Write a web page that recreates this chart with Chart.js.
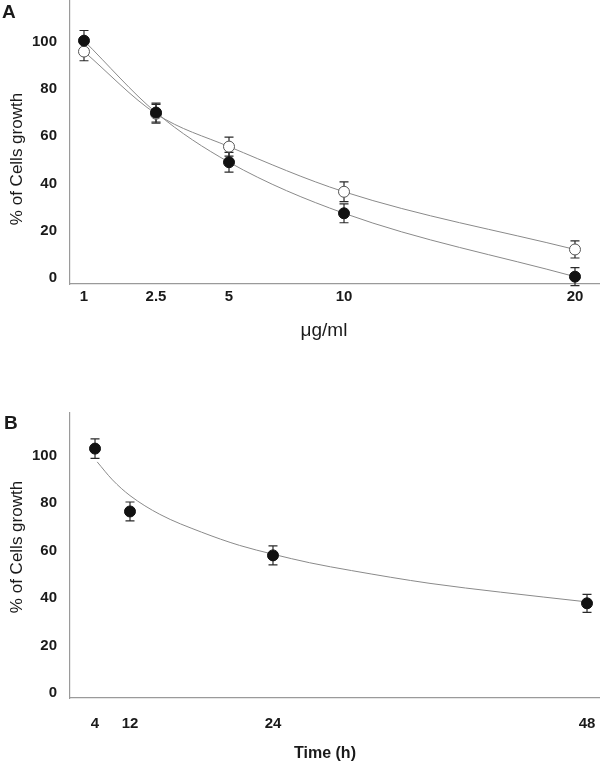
<!DOCTYPE html>
<html>
<head>
<meta charset="utf-8">
<script src="https://cdn.jsdelivr.net/npm/chart.js@4.4.0/dist/chart.umd.min.js"></script>
<style>
  body { margin: 0; background: #fff; }
  .page { position: relative; width: 600px; height: 763px; font-family: "Liberation Sans", Arial, sans-serif; color: #1a1a1a; }
  .panel { position: absolute; left: 0; width: 600px; }
  .letter { position: absolute; font-weight: bold; font-size: 19px; }
  .ytitle { position: absolute; left: 17px; font-size: 17px; white-space: nowrap; transform: translate(-50%, -50%) rotate(-90deg); }
  .xtitle { position: absolute; white-space: nowrap; transform: translate(-50%, -50%); }
</style>
</head>
<body>
<div class="page">
  <div class="panel" style="top:0;height:345px"><canvas id="chart-a" width="600" height="345"></canvas></div>
  <div class="panel" style="top:380px;height:383px"><canvas id="chart-b" width="600" height="383"></canvas></div>
  <div class="letter" style="left:2px;top:1px">A</div>
  <div class="letter" style="left:4px;top:412px">B</div>
  <div class="ytitle" style="top:159px">% of Cells growth</div>
  <div class="ytitle" style="top:547px">% of Cells growth</div>
  <div class="xtitle" style="left:324px;top:330px;font-size:19px">μg/ml</div>
  <div class="xtitle" style="left:325px;top:753px;font-size:16px;font-weight:bold">Time (h)</div>
</div>
<script>
// panel A: dose (ug/ml)
const doseLabels = [1, 2.5, 5, 10, 20];
const doseFilled = [100.4, 70, 49, 27.4, 0.6];
const doseFilledErr = [4.3, 4, 4.2, 4, 3.8];
const doseOpen = [95.8, 69.5, 55.6, 36.5, 12.1];
const doseOpenErr = [3.9, 4, 4, 4.2, 3.6];

// panel B: time (h)
const timeLabels = [4, 12, 24, 48];
const timeValues = [103, 76.5, 58, 37.8];
const timeErr = [4.1, 4, 4, 3.8];
// fitted curve
const timeFitX = [4.5, 8, 12, 14.5, 18, 21.2, 24, 26.8, 30, 36, 41.4, 48];
const timeFitY = [97.4, 89.8, 83.2, 75.3, 67.8, 62.2, 58.5, 54.9, 51.6, 46.2, 42.5, 38.4];

const yTicks = [0, 20, 40, 60, 80, 100];

const FONT = '"Liberation Sans", Arial, sans-serif';
const INK = "#1a1a1a";
Chart.defaults.font.family = FONT;

// x axis of the figure is not linear: map tick values onto fixed fractions of the axis
class PiecewiseScale extends Chart.LinearScale {
  getPixelForValue(value) {
    const stops = this.options.stops;
    const at = this.options.at;
    let i = 0;
    while (i < stops.length - 2 && value > stops[i + 1]) i++;
    const t = (value - stops[i]) / (stops[i + 1] - stops[i]);
    return this.getPixelForDecimal(at[i] + t * (at[i + 1] - at[i]));
  }
  getValueForPixel(pixel) {
    const stops = this.options.stops;
    const at = this.options.at;
    const d = this.getDecimalForPixel(pixel);
    let i = 0;
    while (i < at.length - 2 && d > at[i + 1]) i++;
    const t = (d - at[i]) / (at[i + 1] - at[i]);
    return stops[i] + t * (stops[i + 1] - stops[i]);
  }
}
PiecewiseScale.id = "piecewise";
PiecewiseScale.defaults = Chart.LinearScale.defaults;
Chart.register(PiecewiseScale);

const errorBars = {
  id: "errorBars",
  beforeDatasetsDraw(chart) {
    const ctx = chart.ctx;
    const xs = chart.scales.x;
    const ys = chart.scales.y;
    ctx.save();
    ctx.strokeStyle = "#2a2a2a";
    ctx.lineWidth = 1.2;
    chart.data.datasets.forEach((ds) => {
      if (!ds.errors) return;
      ds.data.forEach((p, i) => {
        const px = xs.getPixelForValue(p.x);
        const top = ys.getPixelForValue(p.y + ds.errors[i]);
        const bot = ys.getPixelForValue(p.y - ds.errors[i]);
        ctx.beginPath();
        ctx.moveTo(px, top);
        ctx.lineTo(px, bot);
        ctx.moveTo(px - 4.5, top);
        ctx.lineTo(px + 4.5, top);
        ctx.moveTo(px - 4.5, bot);
        ctx.lineTo(px + 4.5, bot);
        ctx.stroke();
      });
    });
    ctx.restore();
  },
};

function pts(xv, yv) {
  return xv.map((x, i) => ({ x: x, y: yv[i] }));
}

const tickFont = { family: FONT, size: 15, weight: "bold" };

function yAxis(min, max) {
  return {
    type: "linear",
    min: min,
    max: max,
    grid: { display: false, drawTicks: false },
    border: { display: true, color: "#9a9a9a", width: 1.2 },
    ticks: { font: tickFont, color: INK, padding: 13, callback: (v) => String(v) },
    afterBuildTicks: (s) => { s.ticks = yTicks.map((v) => ({ value: v })); },
    afterFit: (s) => { s.width = 70; s.paddingTop = 0; s.paddingBottom = 0; },
  };
}

function xAxis(labels, at, height, tickPad) {
  return {
    type: "piecewise",
    min: labels[0],
    max: labels[labels.length - 1],
    stops: labels,
    at: at,
    grid: { display: false, drawTicks: false },
    border: { display: true, color: "#9a9a9a", width: 1.2 },
    ticks: { font: tickFont, color: INK, padding: tickPad, autoSkip: false, maxRotation: 0, callback: (v) => String(v) },
    afterBuildTicks: (s) => { s.ticks = labels.map((v) => ({ value: v })); },
    afterFit: (s) => { s.height = height; s.paddingLeft = 0; s.paddingRight = 0; },
  };
}

const common = {
  responsive: false,
  animation: false,
  events: [],
  plugins: { legend: { display: false }, tooltip: { enabled: false } },
};

new Chart(document.getElementById("chart-a"), {
  type: "line",
  data: {
    datasets: [
      {
        label: "filled",
        data: pts(doseLabels, doseFilled),
        errors: doseFilledErr,
        borderColor: "#8a8a8a",
        borderWidth: 1,
        cubicInterpolationMode: "monotone",
        pointRadius: 5.5,
        pointBackgroundColor: "#111",
        pointBorderColor: "#111",
        pointBorderWidth: 1,
        clip: false,
      },
      {
        label: "open",
        data: pts(doseLabels, doseOpen),
        errors: doseOpenErr,
        borderColor: "#8a8a8a",
        borderWidth: 1,
        cubicInterpolationMode: "monotone",
        pointRadius: 5.5,
        pointBackgroundColor: "#fff",
        pointBorderColor: "#555",
        pointBorderWidth: 1,
        clip: false,
      },
    ],
  },
  options: {
    ...common,
    layout: { autoPadding: false, padding: { top: 0, right: 0, bottom: 0, left: 0 } },
    scales: {
      x: xAxis(doseLabels, [0.0264, 0.1623, 0.3, 0.517, 0.9528], 61, 4),
      y: yAxis(-2.5, 117.6),
    },
  },
  plugins: [errorBars],
});

new Chart(document.getElementById("chart-b"), {
  type: "line",
  data: {
    datasets: [
      {
        label: "mean",
        data: pts(timeLabels, timeValues),
        errors: timeErr,
        showLine: false,
        pointRadius: 5.5,
        pointBackgroundColor: "#111",
        pointBorderColor: "#111",
        pointBorderWidth: 1,
        clip: false,
      },
      {
        label: "fit",
        data: pts(timeFitX, timeFitY),
        borderColor: "#8a8a8a",
        borderWidth: 1,
        cubicInterpolationMode: "monotone",
        pointRadius: 0,
        clip: false,
      },
    ],
  },
  options: {
    ...common,
    layout: { autoPadding: false, padding: { top: 33, right: 0, bottom: 0, left: 0 } },
    scales: {
      x: xAxis(timeLabels, [0.0472, 0.1132, 0.383, 0.9755], 65, 17),
      y: yAxis(-2.1, 118),
    },
  },
  plugins: [errorBars],
});
</script>
</body>
</html>
